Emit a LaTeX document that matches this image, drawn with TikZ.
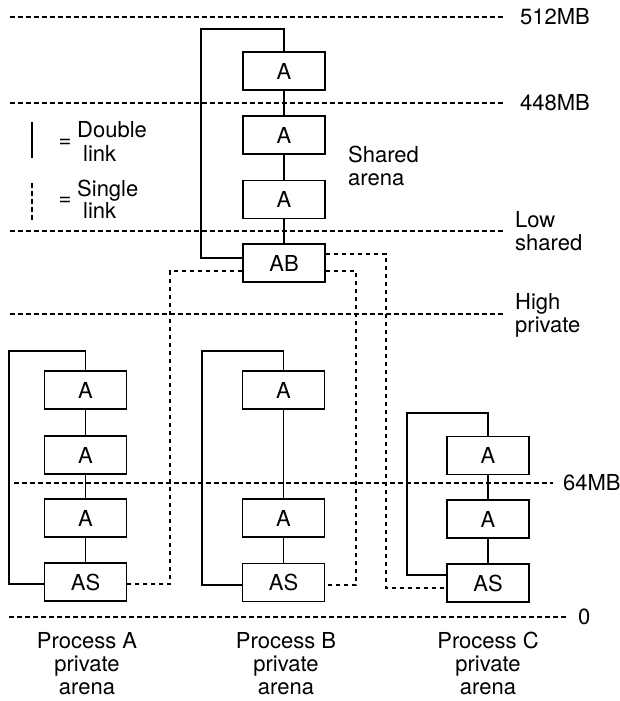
\documentclass[tikz,border=0pt]{standalone}
\usepackage{fontspec}
\setmainfont{TeX Gyre Heros}
\begin{document}
\begin{tikzpicture}[x=1pt,y=-1pt,
  every node/.style={font=\fontsize{22}{23}\selectfont},
  blk/.style={draw, line width=1.3pt, minimum width=82pt, minimum height=38pt, inner sep=0pt},
  dbl/.style={line width=1.3pt},
  sgl/.style={line width=1.2pt, dash pattern=on 4.5pt off 3.5pt},
  guide/.style={line width=1.2pt, dash pattern=on 4.5pt off 3.5pt},
  lbl/.style={inner sep=0pt}]
\fill[white] (0,0) rectangle (620,701);
\useasboundingbox (0,0) rectangle (620,701);

% level guides
\draw[guide] (10,17) -- (506,17);
\draw[guide] (10,103) -- (506,103);
\draw[guide] (10,231) -- (506,231);
\draw[guide] (10,314) -- (506,314);
\draw[guide] (14,483) -- (553,483);
\draw[guide] (9,617) -- (567,617);
\node[lbl, anchor=west] (l512) at (520,17) {512MB};
\node[lbl, anchor=west] (l448) at (520,103) {448MB};
\node[lbl, anchor=base west, align=left] (llow) at (515,250) {Low\\shared};
\node[lbl, anchor=base west, align=left] (lhigh) at (515,332) {High\\private};
\node[lbl, anchor=west] (l64) at (563,483) {64MB};
\node[lbl, anchor=west] (l0) at (578,617) {0};

% legend
\draw[dbl] (32,122) -- (32,158);
\draw[sgl] (32,183) -- (32,220);
\node[lbl] (eq1) at (65,143) {=};
\node[lbl] (eq2) at (65,201) {=};
\node[lbl, anchor=base west] (tdouble) at (77,137) {Double};
\node[lbl, anchor=base west] (tlink1) at (83,161) {link};
\node[lbl, anchor=base west] (tsingle) at (77,196) {Single};
\node[lbl, anchor=base west] (tlink2) at (83,218) {link};

% shared arena
\node[blk] (s1) at (284,71) {A};
\node[blk] (s2) at (284,135) {A};
\node[blk] (s3) at (284,199.5) {A};
\node[blk] (sAB) at (284,263) {AB};
\node[lbl, anchor=base west, align=left] (tshared) at (348,185) {Shared\\arena};

% process A
\node[blk] (a1) at (85.5,390) {A};
\node[blk] (a2) at (85.5,455) {A};
\node[blk] (a3) at (85.5,518) {A};
\node[blk] (aAS) at (85.5,582) {AS};

% process B
\node[blk] (b1) at (283.5,390) {A};
\node[blk] (b3) at (283.5,518) {A};
\node[blk] (bAS) at (283.5,582.5) {AS};

% process C
\node[blk] (c1) at (488,455.5) {A};
\node[blk] (c2) at (488,519) {A};
\node[blk] (cAS) at (488,583) {AS};

% double links
\draw[dbl] (s1) -- (s2);
\draw[dbl] (s2) -- (s3);
\draw[dbl] (s3) -- (sAB);
\draw[dbl] (s1.north) |- (201,29) |- ([yshift=5pt]sAB.west);

\draw[dbl] (a1) -- (a2);
\draw[dbl] (a2) -- (a3);
\draw[dbl] (a3) -- (aAS);
\draw[dbl] (a1.north) |- (9,351) |- ([yshift=-2pt]aAS.west);

\draw[dbl] (b1) -- (b3);
\draw[dbl] (b3) -- (bAS);
\draw[dbl] (b1.north) |- (202,351) |- ([yshift=-2.5pt]bAS.west);

\draw[dbl] (c1) -- (c2);
\draw[dbl] (c2) -- (cAS);
\draw[dbl] (c1.north) |- (407,413) |- ([yshift=8pt]cAS.west);

% single links
\draw[sgl] ([yshift=-8pt]sAB.west) -| (170,400) |- ([yshift=-2pt]aAS.east);
\draw[sgl] ([yshift=-8pt]sAB.east) -| (356,400) |- ([yshift=-2.5pt]bAS.east);
\draw[sgl] ([yshift=9pt]sAB.east) -| (386,400) |- ([yshift=-5pt]cAS.west);

% bottom labels
\node[lbl, anchor=base, align=center] (pa) at (87,694) {Process A\\private\\arena};
\node[lbl, anchor=base, align=center] (pb) at (286,694) {Process B\\private\\arena};
\node[lbl, anchor=base, align=center] (pc) at (488,694) {Process C\\private\\arena};
\end{tikzpicture}
\end{document}
